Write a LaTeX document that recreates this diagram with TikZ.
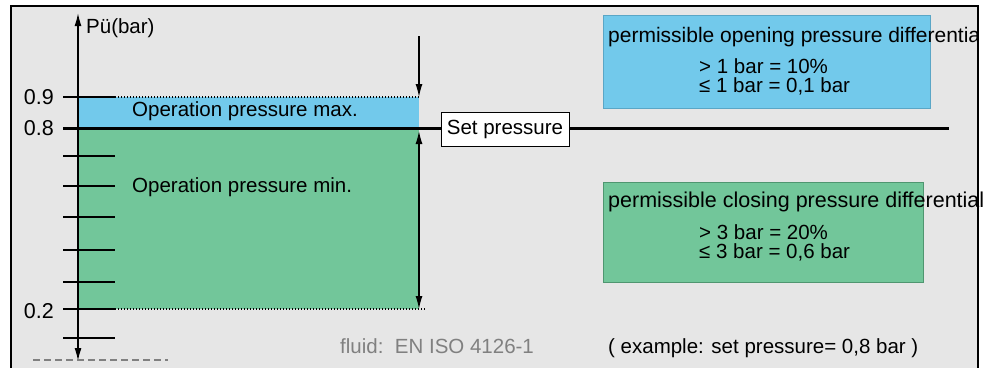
\documentclass[tikz,border=0pt]{standalone}
\usepackage{fontspec}
\setmainfont{Liberation Sans}
\usetikzlibrary{arrows.meta, positioning}
\definecolor{bggray}{HTML}{E6E6E6}
\definecolor{maxblue}{HTML}{72C9EB}
\definecolor{blueedge}{HTML}{5AA6C6}
\definecolor{mingreen}{HTML}{72C69A}
\definecolor{greenedge}{HTML}{4F9670}
\definecolor{notegray}{HTML}{808080}

\begin{document}
\begin{tikzpicture}[x=1pt,y=-1pt,
  lbl/.style={font=\fontsize{20.5}{16}\selectfont, inner sep=0pt},
  boxtitle/.style={lbl, font=\fontsize{21.5}{16}\selectfont, anchor=base west},
  tickmark/.style={line width=2pt},
  ptip/.tip={Latex[length=13pt,width=7pt]},
  dimarrow/.style={line width=1.3pt},
  dots/.style={line width=1.2pt, dash pattern=on 1.2pt off 1.8pt}]
\clip (0,0) rectangle (1000,367);
% frame
\draw[line width=1.5pt, fill=bggray] (11,6) rectangle (978,380);
% pressure ranges
\fill[maxblue] (78,97) rectangle (419,128);
\fill[mingreen] (78,128) rectangle (419,309);
\foreach \y in {97,156,186,217,250,282,309,338}
  \draw[tickmark] (63,\y) -- (115,\y);
\draw[dots] (115,97) -- (420,97);
\draw[dots] (115,309) -- (425,309);
% axis
\coordinate (ptop) at (78,13);
\coordinate (pbot) at (78,361);
\draw[line width=1.5pt, {ptip}-{ptip}] (ptop) -- (pbot);
\draw[notegray, line width=2pt, dash pattern=on 7pt off 4pt] (33,360) -- (168,360);
\node[lbl, anchor=base west] (unit) at (86,33) {Pü(bar)};
\node[lbl, font=\fontsize{21.5}{16}\selectfont, anchor=east] (l09) at (54,97) {0.9};
\node[lbl, font=\fontsize{21.5}{16}\selectfont, anchor=east] (l08) at (54,128) {0.8};
\node[lbl, font=\fontsize{21.5}{16}\selectfont, anchor=east] (l02) at (54,311) {0.2};
\node[lbl, anchor=base west] (opmax) at (132,116) {Operation pressure max.};
\node[lbl, anchor=base west] (opmin) at (132,192) {Operation pressure min.};
% set pressure
\coordinate (s0) at (63,128.5);
\coordinate (s1) at (949,128.5);
\draw[line width=3.5pt] (s0) -- (s1);
\node[lbl, draw, fill=white, line width=0.8pt, inner xsep=5pt,
  minimum width=128pt, minimum height=34pt] (setp) at (505,129) {Set pressure};
% differentials
\coordinate (atop) at (419,36);
\coordinate (amax) at (419,97);
\coordinate (aset) at (419,131);
\coordinate (amin) at (419,309);
\draw[dimarrow, -{ptip}] (atop) -- (amax);
\draw[dimarrow, {ptip}-{ptip}] (aset) -- (amin);
% boxes on the right
\node[draw=blueedge, fill=maxblue, line width=1pt, anchor=north west, inner sep=0pt,
  minimum width=327pt, minimum height=93pt] (openbox) at (603,15) {};
\node[draw=greenedge, fill=mingreen, line width=1pt, anchor=north west, inner sep=0pt,
  minimum width=320pt, minimum height=100pt] (closebox) at (603,182) {};
\begin{scope}
\clip (0,0) rectangle (978,367);
\node[boxtitle, font=\fontsize{21}{16}\selectfont] (opentitle) at (608,42) {permissible opening pressure differentia};
\end{scope}
\node[lbl, anchor=base west] (open1) at (699,73.5) {> 1 bar = 10\%};
\node[lbl, anchor=base west] (open2) at (699,92.5) {≤ 1 bar = 0,1 bar};
\node[boxtitle] (closetitle) at (608,207) {permissible closing pressure differential};
\node[lbl, anchor=base west] (close1) at (699,239.5) {> 3 bar = 20\%};
\node[lbl, anchor=base west] (close2) at (699,258.5) {≤ 3 bar = 0,6 bar};
% notes
\node[lbl, text=notegray, anchor=base west] (fluid) at (340,353) {fluid:\ \ EN ISO 4126-1};
\node[lbl, anchor=base west] (example) at (608,353) {( example: set pressure= 0,8 bar )};
\end{tikzpicture}
\end{document}
